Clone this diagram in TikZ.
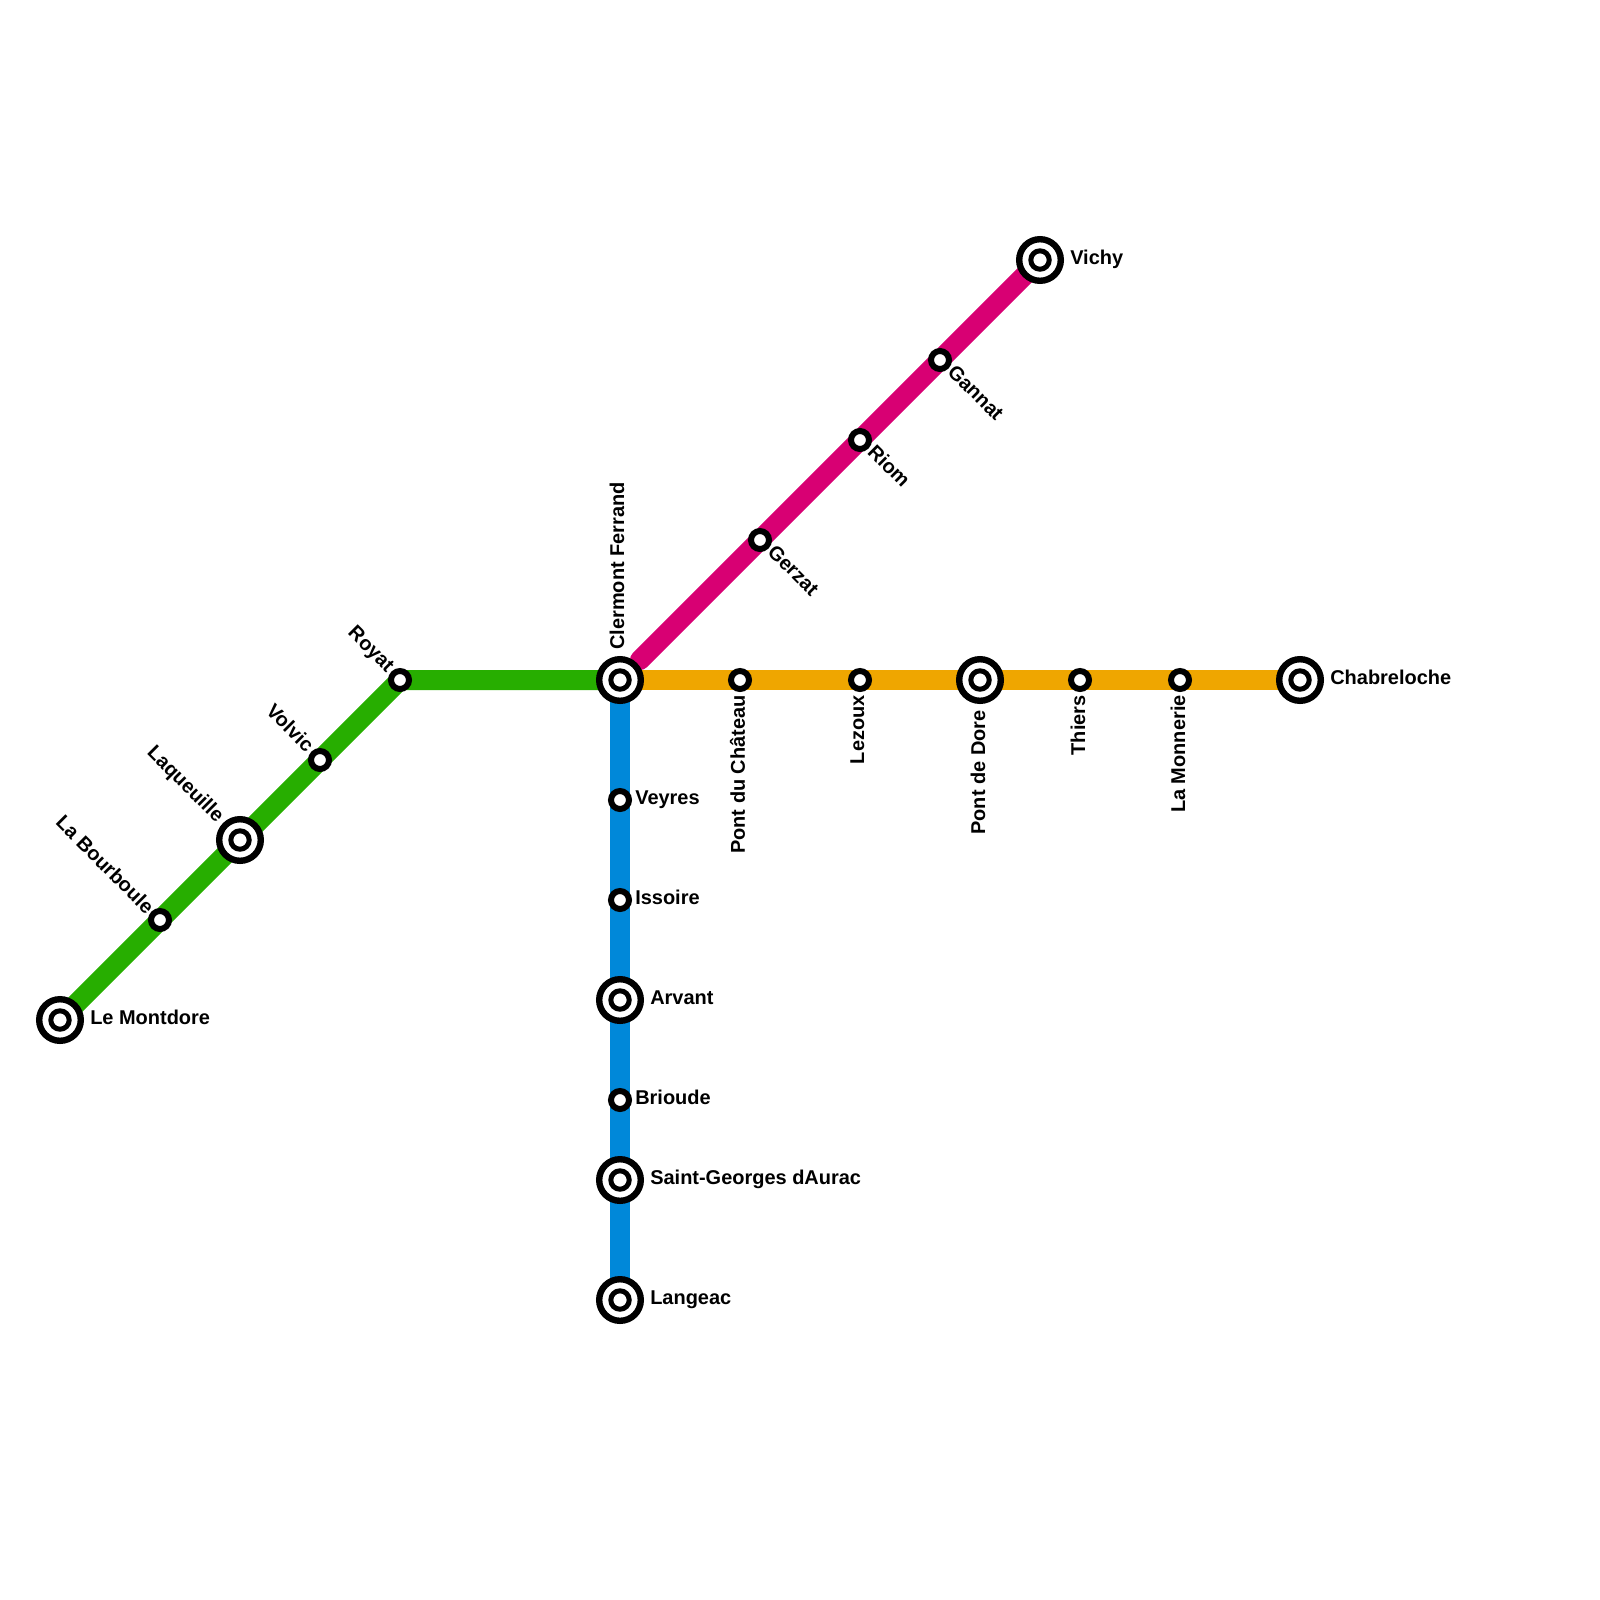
\documentclass[tikz,border=0pt]{standalone}
\usepackage{fontspec}
\setmainfont{Liberation Sans}
\usetikzlibrary{backgrounds}
\definecolor{linegreen}{HTML}{27AE00}
\definecolor{lineblue}{HTML}{0088D9}
\definecolor{lineorange}{HTML}{EFA600}
\definecolor{linepink}{HTML}{D80073}
\tikzset{
  stop/.style={circle,draw=black,fill=white,line width=1.5mm,minimum size=4.5mm,inner sep=0pt},
  hub/.style={circle,draw=black,fill=white,line width=1.6mm,minimum size=10.4mm,inner sep=0pt,
    path picture={\draw[line width=1.25mm] (path picture bounding box.center) circle (2.3mm);}},
  lbl/.style={inner sep=0pt,font=\fontsize{14.2}{16}\selectfont\bfseries},
  track/.style={line width=5mm}
}
\begin{document}
\begin{tikzpicture}[x=.5cm,y=-.5cm]
\useasboundingbox (0,0) rectangle (80,80);
\node[hub] (clermont) at (31,34) {};
\coordinate (clermontne) at (32,33);
\node[stop] (royat) at (20,34) {}; \node[stop] (volvic) at (16,38) {};
\node[hub] (laqueuille) at (12,42) {}; \node[stop] (bourboule) at (8,46) {};
\node[hub] (montdore) at (3,51) {};
\node[stop] (veyres) at (31,40) {}; \node[stop] (issoire) at (31,45) {};
\node[hub] (arvant) at (31,50) {}; \node[stop] (brioude) at (31,55) {};
\node[hub] (stgeorges) at (31,59) {}; \node[hub] (langeac) at (31,65) {};
\node[stop] (chateau) at (37,34) {}; \node[stop] (lezoux) at (43,34) {};
\node[hub] (dore) at (49,34) {}; \node[stop] (thiers) at (54,34) {};
\node[stop] (monnerie) at (59,34) {}; \node[hub] (chabreloche) at (65,34) {};
\node[stop] (gerzat) at (38,27) {}; \node[stop] (riom) at (43,22) {};
\node[stop] (gannat) at (47,18) {}; \node[hub] (vichy) at (52,13) {};
\begin{scope}[on background layer]
\draw[track,linegreen] (clermont.center)--(royat.center)--(volvic.center)--(laqueuille.center)--(bourboule.center)--(montdore.center);
\draw[track,lineblue] (clermont.center)--(veyres.center)--(issoire.center)--(arvant.center)--(brioude.center)--(stgeorges.center)--(langeac.center);
\draw[track,lineorange] (clermont.center)--(chateau.center)--(lezoux.center)--(dore.center)--(thiers.center)--(monnerie.center)--(chabreloche.center);
\draw[track,linepink,line cap=round] (clermontne)--(gerzat.center)--(riom.center)--(gannat.center)--(vichy.center);
\end{scope}
\node[lbl,rotate=90,anchor=west] (clermontlbl) at (30.85,32.5) {Clermont Ferrand};
\node[lbl,rotate=-45,anchor=east] (royatlbl) at (19.5,33.5) {Royat};
\node[lbl,rotate=-45,anchor=east] (volviclbl) at (15.55,37.4) {Volvic};
\node[lbl,rotate=-45,anchor=east] (laqueuillelbl) at (11,41) {Laqueuille};
\node[lbl,rotate=-45,anchor=east] (bourboulelbl) at (7.55,45.5) {La Bourboule};
\node[lbl,anchor=base west] (montdorelbl) at (4.5,51.2) {Le Montdore};
\node[lbl,anchor=base west] (veyreslbl) at (31.75,40.2) {Veyres};
\node[lbl,anchor=base west] (issoirelbl) at (31.75,45.2) {Issoire};
\node[lbl,anchor=base west] (arvantlbl) at (32.5,50.2) {Arvant};
\node[lbl,anchor=base west] (brioudelbl) at (31.75,55.2) {Brioude};
\node[lbl,anchor=base west] (stgeorgeslbl) at (32.5,59.2) {Saint-Georges dAurac};
\node[lbl,anchor=base west] (langeaclbl) at (32.5,65.2) {Langeac};
\node[lbl,rotate=90,anchor=east] (chateaulbl) at (36.87,34.75) {Pont du Château};
\node[lbl,rotate=90,anchor=east] (lezouxlbl) at (42.87,34.75) {Lezoux};
\node[lbl,rotate=90,anchor=east] (dorelbl) at (48.9,35.5) {Pont de Dore};
\node[lbl,rotate=90,anchor=east] (thierslbl) at (53.9,34.75) {Thiers};
\node[lbl,rotate=90,anchor=east] (monnerielbl) at (58.9,34.75) {La Monnerie};
\node[lbl,anchor=base west] (chabrelochelbl) at (66.5,34.2) {Chabreloche};
\node[lbl,rotate=-45,anchor=west] (gerzatlbl) at (38.57,27.4) {Gerzat};
\node[lbl,rotate=-45,anchor=west] (riomlbl) at (43.57,22.4) {Riom};
\node[lbl,rotate=-45,anchor=west] (gannatlbl) at (47.57,18.4) {Gannat};
\node[lbl,anchor=base west] (vichylbl) at (53.5,13.2) {Vichy};
\end{tikzpicture}
\end{document}
